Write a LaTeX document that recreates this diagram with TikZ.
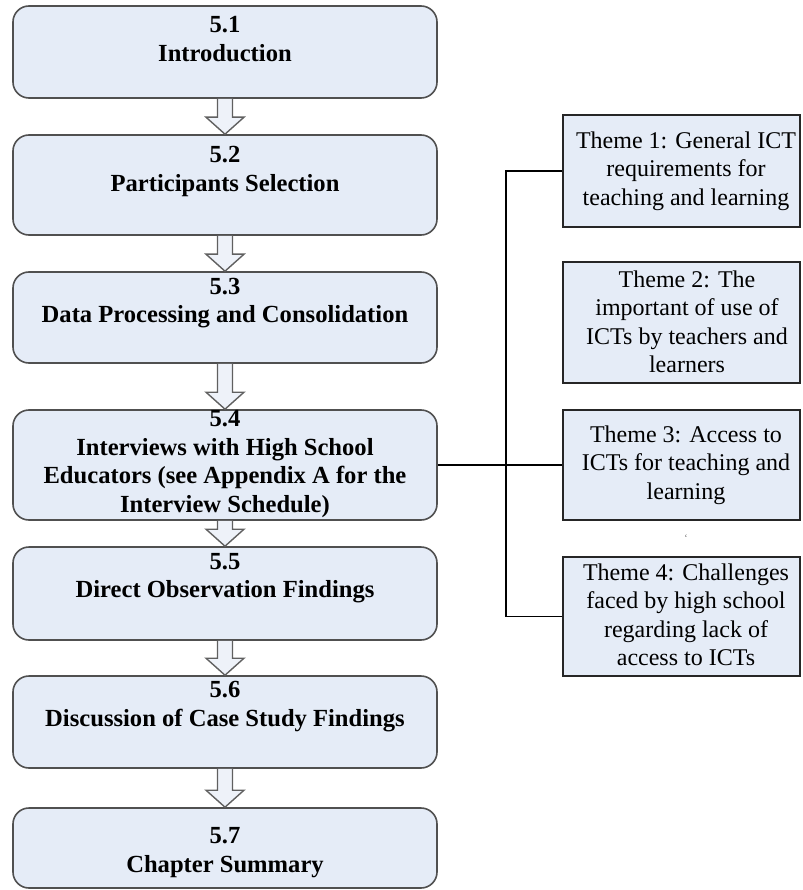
\documentclass[tikz,border=0pt]{standalone}
\usepackage{fontspec}
\setmainfont{Liberation Serif}
\usetikzlibrary{calc}
\definecolor{boxfill}{HTML}{E5ECF7}
\definecolor{boxline}{HTML}{505050}
\definecolor{arrfill}{HTML}{EEF2F9}
\definecolor{arrline}{HTML}{606060}
\tikzset{
  stage/.style={draw=boxline, line width=1.6pt, fill=boxfill, rounded corners=16pt,
    minimum width=424pt, inner sep=0pt},
  stagetext/.style={align=center, font=\fontsize{24.6}{28.5}\selectfont\bfseries, inner sep=0pt},
  theme/.style={draw=black!85, line width=1.6pt, fill=boxfill, minimum width=237pt,
    inner sep=0pt},
  themetext/.style={align=center, font=\fontsize{24}{28.5}\selectfont, inner sep=0pt},
  blockarr/.style={draw=arrline, fill=arrfill, line width=1.4pt, line join=miter},
  link/.style={draw=black, line width=1.4pt}
}
\newcommand{\blockarrow}[2]{%
  \filldraw[blockarr] let \p1=(#1.south), \p2=(#2.north), \n1={\y2+17pt} in
    (\x1-7.5pt,\y1) -- (\x1-7.5pt,\n1) -- (\x1-19pt,\n1) -- (\x1,\y2)
    -- (\x1+19pt,\n1) -- (\x1+7.5pt,\n1) -- (\x1+7.5pt,\y1);}
\begin{document}
\begin{tikzpicture}[x=1pt,y=-1pt]
\useasboundingbox (0,0) rectangle (802,890);
% left stages
\node[stage, minimum height=92pt] (b1) at (225,52) {};
\node[stage, minimum height=100pt] (b2) at (225,185) {};
\node[stage, minimum height=91pt] (b3) at (225,317.5) {};
\node[stage, minimum height=110pt] (b4) at (225,465) {};
\node[stage, minimum height=93pt] (b5) at (225,593.5) {};
\node[stage, minimum height=92pt] (b6) at (225,722) {};
\node[stage, minimum height=80pt] (b7) at (225,848) {};
% stage texts
\node[stagetext] (t1) at (225,39) {5.1\\Introduction};
\node[stagetext] (t2) at (225,171.5) {5.2\\Participants Selection};
\node[stagetext] (t3) at (225,303) {5.3\\Data Processing and Consolidation};
\node[stagetext] (t4) at (225,464) {5.4\\Interviews with High School\\Educators (see Appendix A for the\\Interview Schedule)};
\node[stagetext] (t5) at (225,578) {5.5\\Direct Observation Findings};
\node[stagetext] (t6) at (225,706.5) {5.6\\Discussion of Case Study Findings};
\node[stagetext] (t7) at (225,852.5) {5.7\\Chapter Summary};
% block arrows
\blockarrow{b1}{b2}
\blockarrow{b2}{b3}
\blockarrow{b3}{b4}
\blockarrow{b4}{b5}
\blockarrow{b5}{b6}
\blockarrow{b6}{b7}
% themes
\node[theme, minimum height=112pt] (th1) at (681.5,171) {};
\node[theme, minimum height=121pt] (th2) at (681.5,322.5) {};
\node[theme, minimum height=110pt] (th3) at (681.5,465) {};
\node[theme, minimum height=119pt] (th4) at (681.5,616.5) {};
\node[themetext] (tt1) at (686,171) {Theme 1: General ICT\\requirements for\\teaching and learning};
\node[themetext] (tt2) at (687,322) {Theme 2: The\\important of use of\\ICTs by teachers and\\learners};
\node[themetext] (tt3) at (686,465) {Theme 3: Access to\\ICTs for teaching and\\learning};
\node[themetext] (tt4) at (686,615) {Theme 4: Challenges\\faced by high school\\regarding lack of\\access to ICTs};
\node[font=\fontsize{10}{10}\selectfont, text=black!60, inner sep=0pt] (mark) at (686,538) {`};
% connectors
\coordinate (j) at (506,465);
\draw[link] (b4.east) -- (th3.west);
\draw[link] (th1.west) -| (j) |- (th4.west);
\end{tikzpicture}
\end{document}
